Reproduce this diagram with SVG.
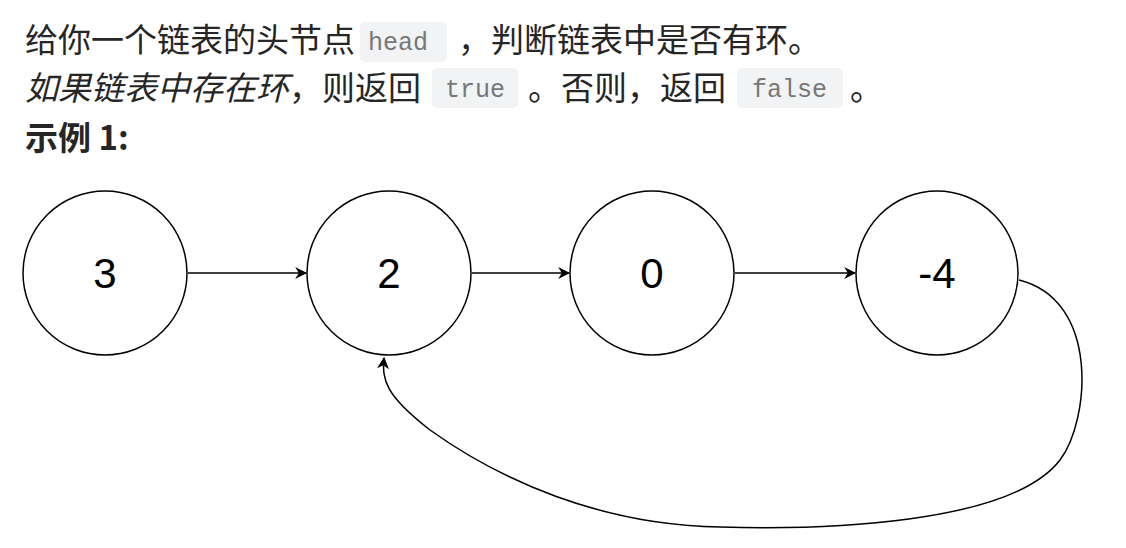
<svg xmlns="http://www.w3.org/2000/svg" width="1126" height="548" viewBox="0 0 1126 548">
<style>
.t{font-family:"Noto Sans CJK SC","Noto Sans",sans-serif;font-size:33px;fill:#262626}
.c{font-family:"Liberation Mono","DejaVu Sans Mono",monospace;font-size:25px;fill:#777}
.bg{fill:#f2f3f5}
.n{fill:#fff;stroke:#000;stroke-width:1.5}
.l{font-family:"Liberation Sans",Arial,sans-serif;font-size:42px;fill:#000;text-anchor:middle}
.e{fill:none;stroke:#000;stroke-width:1.5}
</style>
<defs><marker id="a" viewBox="0 0 10 10" refX="9" refY="5" markerWidth="12" markerHeight="12" orient="auto" markerUnits="userSpaceOnUse"><path d="M0,0 L10,5 L0,10 L3,5 Z" fill="#000"/></marker></defs>
<rect width="1126" height="548" fill="#fff"/>
<rect class="bg" x="360" y="22" width="87" height="40" rx="5"/>
<rect class="bg" x="432" y="68" width="86" height="40" rx="5"/>
<rect class="bg" x="737" y="68" width="106" height="40" rx="5"/>
<text class="t" x="25" y="52">给你一个链表的头节点</text>
<text class="c" x="368" y="50">head</text>
<text class="t" x="458" y="52">，判断链表中是否有环。</text>
<text class="t" x="25" y="100" font-style="italic">如果链表中存在环</text>
<text class="t" x="289" y="100">，则返回</text>
<text class="c" x="445" y="97">true</text>
<text class="t" x="528" y="100">。否则，返回</text>
<text class="c" x="752" y="97">false</text>
<text class="t" x="850" y="100">。</text>
<text class="t" x="25" y="150" font-weight="bold">示例 1:</text>
<g id="n3"><ellipse class="n" cx="105" cy="273" rx="82" ry="82"/><text class="l" x="105" y="288">3</text></g>
<g id="n2"><ellipse class="n" cx="389" cy="273" rx="82" ry="82"/><text class="l" x="389" y="288">2</text></g>
<g id="n0"><ellipse class="n" cx="652" cy="273" rx="82" ry="82"/><text class="l" x="652" y="288">0</text></g>
<g id="n4"><ellipse class="n" cx="937" cy="273" rx="81" ry="82"/><text class="l" x="937" y="288">-4</text></g>
<g id="edges">
<path class="e" d="M188,273 H306" marker-end="url(#a)"/>
<path class="e" d="M472,273 H569" marker-end="url(#a)"/>
<path class="e" d="M735,273 H855" marker-end="url(#a)"/>
<path class="e" d="M1019,280 C1100,300 1090,420 1060,460 C1010,525 820,530 720,527 C600,525 500,480 430,430 C385,395 382,380 384,358" marker-end="url(#a)"/>
</g>
</svg>
